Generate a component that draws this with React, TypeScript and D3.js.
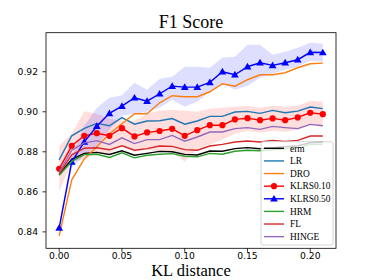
import React, { useEffect, useRef } from 'react';
import * as d3 from 'd3';

const kl = [0, 0.01, 0.02, 0.03, 0.04, 0.05, 0.06, 0.07, 0.08, 0.09, 0.1, 0.11, 0.12, 0.13, 0.14, 0.15, 0.16, 0.17, 0.18, 0.19, 0.2, 0.21];

const erm = [0.8687, 0.8762, 0.8792, 0.8797, 0.8787, 0.8805, 0.8783, 0.8792, 0.8802, 0.88, 0.8787, 0.8784, 0.8804, 0.8803, 0.8816, 0.8821, 0.8815, 0.882, 0.8825, 0.883, 0.8845, 0.8848];
const lr = [0.876, 0.888, 0.8917, 0.8942, 0.893, 0.8971, 0.8938, 0.8954, 0.8955, 0.8966, 0.8938, 0.8954, 0.8977, 0.8977, 0.8999, 0.9002, 0.8992, 0.9007, 0.8995, 0.9003, 0.9024, 0.9016];
const dro = [0.838, 0.866, 0.8765, 0.8825, 0.889, 0.894, 0.899, 0.899, 0.9045, 0.908, 0.9075, 0.9075, 0.91, 0.914, 0.9128, 0.916, 0.9185, 0.9185, 0.9195, 0.922, 0.924, 0.9243];
const klrs10 = [0.8715, 0.883, 0.888, 0.8893, 0.888, 0.8918, 0.8877, 0.8897, 0.8904, 0.8915, 0.888, 0.8908, 0.8933, 0.8933, 0.8962, 0.8968, 0.8958, 0.8967, 0.8958, 0.8972, 0.8995, 0.8988];
const klrs10Lo = [0.86, 0.875, 0.876, 0.8795, 0.879, 0.8835, 0.88, 0.881, 0.88, 0.88, 0.875, 0.8815, 0.8835, 0.886, 0.889, 0.8905, 0.8895, 0.8905, 0.89, 0.891, 0.8935, 0.893];
const klrs10Hi = [0.883, 0.889, 0.9003, 0.899, 0.8965, 0.8955, 0.8955, 0.899, 0.9005, 0.901, 0.9005, 0.9, 0.9015, 0.902, 0.9025, 0.903, 0.902, 0.903, 0.9025, 0.903, 0.9055, 0.905];
const klrs50 = [0.842, 0.875, 0.885, 0.8928, 0.8992, 0.9028, 0.907, 0.9053, 0.909, 0.9128, 0.9123, 0.9123, 0.9147, 0.92, 0.9185, 0.9225, 0.9245, 0.9232, 0.9245, 0.926, 0.9297, 0.9296];
const klrs50Lo = [0.84, 0.872, 0.878, 0.883, 0.891, 0.898, 0.899, 0.9, 0.902, 0.906, 0.9025, 0.905, 0.91, 0.914, 0.911, 0.913, 0.917, 0.919, 0.921, 0.9225, 0.9255, 0.925];
const klrs50Hi = [0.844, 0.878, 0.893, 0.902, 0.907, 0.9083, 0.9145, 0.911, 0.9165, 0.9175, 0.9225, 0.9225, 0.922, 0.927, 0.9275, 0.9335, 0.9335, 0.9285, 0.93, 0.932, 0.9345, 0.934];
const hrm = [0.8683, 0.8752, 0.8786, 0.8788, 0.8772, 0.8795, 0.877, 0.8783, 0.8788, 0.8791, 0.8778, 0.8775, 0.8792, 0.8788, 0.8803, 0.8808, 0.8805, 0.881, 0.8815, 0.882, 0.8837, 0.8838];
const fl = [0.869, 0.8785, 0.8818, 0.882, 0.881, 0.883, 0.8808, 0.8816, 0.8829, 0.8827, 0.8811, 0.8808, 0.8829, 0.8837, 0.8849, 0.8854, 0.8849, 0.8857, 0.8852, 0.8857, 0.8879, 0.8879];
const hinge = [0.8697, 0.8808, 0.8845, 0.8856, 0.8837, 0.887, 0.8841, 0.8861, 0.8861, 0.8882, 0.8853, 0.8874, 0.8899, 0.8899, 0.8916, 0.8921, 0.8912, 0.8927, 0.8921, 0.8916, 0.8937, 0.893];

const xTicks = [0, 0.05, 0.1, 0.15, 0.2];
const yTicks = [0.84, 0.86, 0.88, 0.9, 0.92];

const series = [
  { name: 'erm', values: erm, color: '#000000', marker: '' },
  { name: 'LR', values: lr, color: '#1f77b4', marker: '' },
  { name: 'DRO', values: dro, color: '#ff7f0e', marker: '' },
  { name: 'KLRS0.10', values: klrs10, color: '#ff0000', marker: 'circle' },
  { name: 'KLRS0.50', values: klrs50, color: '#0000ff', marker: 'triangle' },
  { name: 'HRM', values: hrm, color: '#2ca02c', marker: '' },
  { name: 'FL', values: fl, color: '#d62728', marker: '' },
  { name: 'HINGE', values: hinge, color: '#9467bd', marker: '' },
];

const bands = [
  { lo: klrs10Lo, hi: klrs10Hi, color: '#ff0000' },
  { lo: klrs50Lo, hi: klrs50Hi, color: '#0000ff' },
];

const App: React.FC = () => {
  const svgRef = useRef<SVGSVGElement>(null);

  useEffect(() => {
    if (!svgRef.current) return;
    const svg = d3.select(svgRef.current);
    svg.selectAll('*').remove();

    const left = 46, right = 336, top = 32.7, bottom = 248.3;
    const serif = '"Liberation Serif", "Times New Roman", serif';
    const sans = '"DejaVu Sans", sans-serif';

    const x = d3.scaleLinear().domain([-0.0105, 0.2205]).range([left, right]);
    const y = d3.scaleLinear().domain([0.8318, 0.9395]).range([bottom, top]);

    svg.append('defs').append('clipPath').attr('id', 'plot-clip')
      .append('rect').attr('x', left).attr('y', top)
      .attr('width', right - left).attr('height', bottom - top);

    const plot = svg.append('g').attr('clip-path', 'url(#plot-clip)');

    // shaded bands
    const area = d3.area<number>()
      .x((_, i) => x(kl[i]));
    bands.forEach(b => {
      plot.append('path')
        .attr('d', area.y0((_, i) => y(b.lo[i])).y1((_, i) => y(b.hi[i]))(kl) as string)
        .attr('fill', b.color)
        .attr('fill-opacity', 0.13);
    });

    const line = d3.line<number>()
      .x((_, i) => x(kl[i]))
      .y(d => y(d));

    const tri = d3.symbol().type(d3.symbolTriangle).size(26);

    series.forEach(s => {
      plot.append('path')
        .attr('d', line(s.values) as string)
        .attr('fill', 'none')
        .attr('stroke', s.color)
        .attr('stroke-width', 1.4);
      if (s.marker === 'circle') {
        plot.selectAll(null).data(s.values).enter().append('circle')
          .attr('cx', (_, i) => x(kl[i]))
          .attr('cy', d => y(d))
          .attr('r', 3.1)
          .attr('fill', s.color);
      } else if (s.marker === 'triangle') {
        plot.selectAll(null).data(s.values).enter().append('path')
          .attr('d', tri() as string)
          .attr('transform', (d, i) => `translate(${x(kl[i])},${y(d) + 0.6})`)
          .attr('fill', s.color);
      }
    });

    // frame
    svg.append('rect')
      .attr('x', left).attr('y', top)
      .attr('width', right - left).attr('height', bottom - top)
      .attr('fill', 'none').attr('stroke', '#000').attr('stroke-width', 0.8);

    // x axis
    xTicks.forEach(t => {
      svg.append('line')
        .attr('x1', x(t)).attr('x2', x(t))
        .attr('y1', bottom).attr('y2', bottom + 3.5)
        .attr('stroke', '#000').attr('stroke-width', 0.8);
      svg.append('text')
        .attr('x', x(t)).attr('y', bottom + 11)
        .attr('text-anchor', 'middle')
        .attr('font-family', sans).attr('font-size', 9.2)
        .text(d3.format('.2f')(t));
    });

    // y axis
    yTicks.forEach(t => {
      svg.append('line')
        .attr('x1', left - 3.5).attr('x2', left)
        .attr('y1', y(t)).attr('y2', y(t))
        .attr('stroke', '#000').attr('stroke-width', 0.8);
      svg.append('text')
        .attr('x', left - 8).attr('y', y(t) + 3.3)
        .attr('text-anchor', 'end')
        .attr('font-family', sans).attr('font-size', 9.2)
        .text(d3.format('.2f')(t));
    });

    // title and x label
    svg.append('text')
      .attr('x', (left + right) / 2).attr('y', 28.3)
      .attr('text-anchor', 'middle')
      .attr('font-family', serif).attr('font-size', 18)
      .text('F1 Score');

    svg.append('text')
      .attr('x', (left + right) / 2).attr('y', 276)
      .attr('text-anchor', 'middle')
      .attr('font-family', serif).attr('font-size', 16.5)
      .text('KL distance');

    // legend
    const lg = svg.append('g');
    lg.append('rect')
      .attr('x', 261).attr('y', 141.7)
      .attr('width', 72).attr('height', 103.3)
      .attr('rx', 2)
      .attr('fill', '#fff').attr('fill-opacity', 0.8)
      .attr('stroke', '#cccccc').attr('stroke-width', 0.8);

    series.forEach((s, i) => {
      const ly = 148.3 + i * 12.62;
      lg.append('line')
        .attr('x1', 264).attr('x2', 284)
        .attr('y1', ly).attr('y2', ly)
        .attr('stroke', s.color).attr('stroke-width', 1.4);
      if (s.marker === 'circle') {
        lg.append('circle').attr('cx', 274).attr('cy', ly).attr('r', 3.1).attr('fill', s.color);
      } else if (s.marker === 'triangle') {
        lg.append('path').attr('d', tri() as string)
          .attr('transform', `translate(274,${ly + 0.6})`).attr('fill', s.color);
      }
      lg.append('text')
        .attr('x', 290).attr('y', ly + 3.2)
        .attr('font-family', serif).attr('font-size', 9.4)
        .text(s.name);
    });
  }, []);

  return (
    <svg
      ref={svgRef}
      width={374}
      height={280}
      viewBox="0 0 374 280"
      style={{ position: 'absolute', left: 0, top: 0, background: '#fff' }}
    />
  );
};

export default App;
